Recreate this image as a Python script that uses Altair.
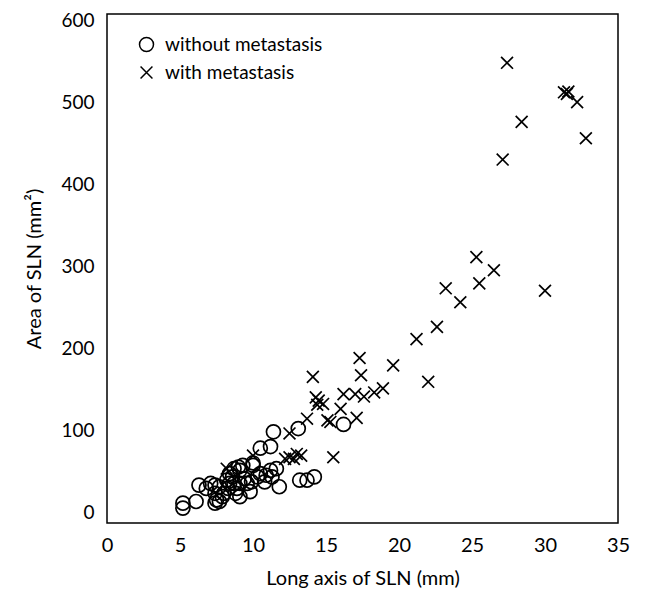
import altair as alt
import pandas as pd

# Without metastasis (circles)
no_x = [5.2, 5.2, 6.1, 6.3, 6.8, 7.1, 7.4, 7.4, 7.5, 7.4, 7.7, 7.7, 8.0, 8.2, 8.3,
        8.4, 8.4, 8.7, 8.7, 8.9, 9.0, 9.1, 9.1, 9.1, 9.3, 9.6, 9.9, 10.0, 10.3, 10.5,
        10.9, 10.5, 11.2, 11.4, 11.2, 11.3, 10.8, 11.8, 13.1, 13.2, 13.7, 14.2, 16.2,
        10.0, 8.6, 9.4, 7.9, 9.8, 11.6, 8.8]
no_y = [12, 6, 14, 34, 30, 36, 34, 24, 16, 12, 14, 32, 24, 40, 30,
        48, 36, 54, 36, 30, 56, 52, 36, 20, 58, 36, 38, 58, 44, 48,
        46, 79, 81, 99, 52, 44, 38, 32, 103, 40, 40, 44, 108,
        61, 44, 42, 20, 26, 54, 24]

# With metastasis (crosses)
yes_x = [27.4, 31.3, 31.5, 31.6, 32.2, 28.4, 32.8, 27.1, 25.3, 26.5, 23.2, 25.5,
         24.2, 30.0, 21.2, 22.6, 19.6, 17.3, 17.4, 14.1, 22.0, 18.9, 18.3, 17.0,
         17.6, 16.2, 14.3, 14.4, 14.8, 14.5, 16.0, 13.7, 15.3, 15.1, 17.1, 12.5,
         10.0, 12.5, 13.0, 12.8, 12.2, 13.3, 15.5, 8.2]
yes_y = [549, 513, 511, 514, 501, 477, 457, 431, 312, 296, 274, 280,
         257, 271, 212, 227, 180, 189, 168, 166, 160, 152, 147, 145,
         142, 145, 141, 132, 133, 137, 127, 115, 111, 113, 116, 97,
         70, 68, 72, 66, 66, 70, 68, 54]

groups = ["without metastasis", "with metastasis"]

df = pd.concat([
    pd.DataFrame({"x": no_x, "y": no_y, "group": groups[0]}),
    pd.DataFrame({"x": yes_x, "y": yes_y, "group": groups[1]}),
])

FONT = "Lato"
XPATH = "M-0.85,-0.85L0.85,0.85M-0.85,0.85L0.85,-0.85"

chart = alt.Chart(df).mark_point(filled=False, color="black", strokeWidth=1.7, opacity=1, size=196).encode(
    x=alt.X("x:Q", scale=alt.Scale(domain=[0, 35], nice=False),
            axis=alt.Axis(title="Long axis of SLN (mm)", values=[0, 5, 10, 15, 20, 25, 30, 35],
                          grid=False, ticks=False, domain=False, labelPadding=12, labelFlush=False,
                          labelFontSize=20, labelFont=FONT, labelColor="black",
                          titleFontSize=20, titleFont=FONT, titleFontWeight="normal",
                          titleColor="black", titleY=55, titleBaseline="middle")),
    y=alt.Y("y:Q", scale=alt.Scale(domain=[-12.2, 608.5], nice=False, zero=False),
            axis=alt.Axis(title="Area of SLN (mm²)", values=[0, 100, 200, 300, 400, 500, 600],
                          grid=False, ticks=False, domain=False, labelPadding=13,
                          labelFontSize=19, labelFont=FONT, labelColor="black",
                          titleFontSize=20, titleFont=FONT, titleFontWeight="normal",
                          titleColor="black", titleX=-73, titleBaseline="middle")),
    shape=alt.Shape("group:N", scale=alt.Scale(domain=groups, range=["circle", XPATH]),
                    legend=alt.Legend(title=None, orient="none", legendX=30, legendY=21,
                                      labelFontSize=19, labelFont=FONT, labelColor="black",
                                      symbolSize=196, symbolStrokeColor="black",
                                      symbolStrokeWidth=1.5, symbolFillColor="transparent",
                                      rowPadding=8, labelOffset=9)),
).properties(
    width=511, height=509,
    autosize=alt.AutoSizeParams(type="none"),
    padding={"left": 99, "top": 6, "right": 20, "bottom": 70},
).configure_view(stroke="black", strokeWidth=1.5)

chart.save("out.html", embed_options={"renderer": "svg", "actions": False})
